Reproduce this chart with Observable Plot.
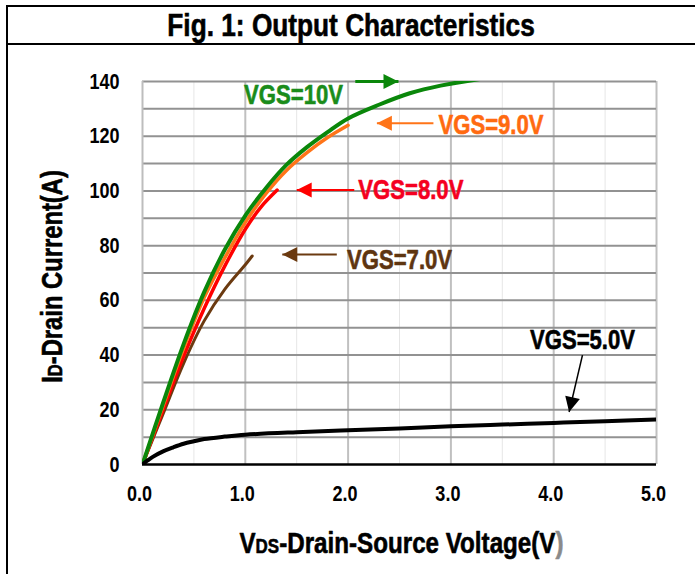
<!DOCTYPE html>
<html>
<head>
<meta charset="utf-8">
<script src="https://cdn.jsdelivr.net/npm/d3@7"></script>
<script src="https://cdn.jsdelivr.net/npm/@observablehq/plot@0.6"></script>
<style>
  body { margin: 0; background: #fff; width: 695px; height: 574px; overflow: hidden; position: relative;
         font-family: 'Liberation Sans', Arial, sans-serif; }
  #frame { position: absolute; left: 6px; top: 5px; width: 689px; height: 569px;
           border-left: 2px solid #000; border-top: 2px solid #000; box-sizing: border-box; }
  #title { position: absolute; left: 8px; top: 7px; width: 687px; height: 36px; border-bottom: 2px solid #000;
           text-align: center; font-weight: bold; font-size: 32px; line-height: 36px; color: #000; }
  #title span { display: inline-block; transform: scaleX(0.82); transform-origin: center;
                -webkit-text-stroke: 0.6px #000; }
  #chart { position: absolute; left: 8px; top: 45px; }
</style>
</head>
<body>
<div id="frame"></div>
<div id="title"><span>Fig. 1: Output Characteristics</span></div>
<div id="chart"></div>
<script>
// ---- data ----
const xTicks = [0, 1, 2, 3, 4, 5];
const yTicks = [0, 20, 40, 60, 80, 100, 120, 140];
const xMinor = [0.5, 1.5, 2.5, 3.5, 4.5];
const yGrid = [10, 20, 30, 40, 50, 60, 70, 80, 90, 100, 110, 120, 130, 140];

const vds10 = [0, 0.2, 0.4, 0.6, 0.8, 1.0, 1.2, 1.4, 1.6, 1.8, 2.0, 2.3, 2.6, 2.9, 3.3];
const id10  = [0, 22.5, 44, 63, 78.5, 91, 101, 109.5, 116, 121.5, 126.5, 131.5, 135.7, 138.5, 141];

const vds9 = [0, 0.2, 0.4, 0.6, 0.8, 1.0, 1.2, 1.4, 1.6, 1.8, 2.0];
const id9  = [0, 21.5, 42.5, 61, 75.5, 88.5, 99, 107.5, 114, 119.5, 124];

const vds8 = [0, 0.2, 0.4, 0.6, 0.8, 1.0, 1.15, 1.31];
const id8  = [0, 20, 39.5, 57, 72.5, 86, 94, 100.3];

const vds7 = [0, 0.2, 0.4, 0.6, 0.8, 1.0, 1.067];
const id7  = [0, 18.5, 37, 52.5, 64, 73, 76.2];

const vds5 = [0, 0.05, 0.1, 0.2, 0.3, 0.4, 0.5, 0.6, 0.8, 1.0, 1.5, 2.0, 2.5, 3.0, 3.5, 4.0, 4.5, 5.0];
const id5  = [0, 1.5, 2.8, 4.8, 6.3, 7.6, 8.5, 9.3, 10.2, 10.9, 11.8, 12.5, 13.2, 14.0, 14.6, 15.2, 15.8, 16.5];

const seriesNames = ["VGS=10V", "VGS=9.0V", "VGS=8.0V", "VGS=7.0V", "VGS=5.0V"];
const annX = [1.47, 3.39, 2.61, 2.50, 4.28];
const annY = [135.1, 124.1, 100.3, 74.7, 45.5];
const arrowFromX = [2.07, 2.83, 2.06, 1.89, 4.28];
const arrowFromY = [140, 124.7, 100.3, 76.8, 40.0];
const arrowToX   = [2.49, 2.28, 1.50, 1.36, 4.15];
const arrowToY   = [140, 124.7, 100.3, 76.8, 19.2];

const xTitle = "VDS-Drain-Source Voltage(V)";
const yTitle = "ID-Drain Current(A)";

// ---- styles ----
const FONT = "'Liberation Sans', Arial, sans-serif";
const NARROW = 0.82;
const curveColors = ["#0a870a", "#ff7418", "#ff0000", "#6b3a10", "#000000"];
const textColors  = ["#1a8c1a", "#ff6a10", "#f40020", "#5e3510", "#000000"];
const curveWidths = [4, 3.5, 3.5, 3, 4];
const arrowWidths = [3, 2, 2, 2, 1.5];

const W = 687, H = 529, ML = 134, MR = 39, MT = 36, MB = 110;
const pxX = (W - ML - MR) / 5, pxY = (H - MT - MB) / 140;

const curves = [
  [vds10, id10], [vds9, id9], [vds8, id8], [vds7, id7], [vds5, id5]
].map(([xs, ys], k) => xs.map((x, i) => ({x, y: ys[i], k})));

function head(angle, L, Wd) {
  const c = Math.cos(angle), s = Math.sin(angle);
  const pt = (x, y) => [x * c - y * s, x * s + y * c];
  return {
    draw(ctx) {
      const a = pt(0, 0), b = pt(-L, -Wd), d = pt(-L, Wd);
      ctx.moveTo(a[0], a[1]); ctx.lineTo(b[0], b[1]); ctx.lineTo(d[0], d[1]); ctx.closePath();
    }
  };
}

const arrowMarks = [];
seriesNames.forEach((name, k) => {
  const dxs = (arrowToX[k] - arrowFromX[k]) * pxX;
  const dys = -(arrowToY[k] - arrowFromY[k]) * pxY;
  const ang = Math.atan2(dys, dxs);
  const seg = [{x1: arrowFromX[k], y1: arrowFromY[k], x2: arrowToX[k], y2: arrowToY[k]}];
  arrowMarks.push(Plot.link(seg, {x1: "x1", y1: "y1", x2: "x2", y2: "y2",
    stroke: curveColors[k], strokeWidth: arrowWidths[k]}));
  arrowMarks.push(Plot.dot([{x: arrowToX[k], y: arrowToY[k]}], {x: "x", y: "y",
    symbol: head(ang, 15, 7.5), r: 5, fill: curveColors[k], stroke: "none"}));
  arrowMarks.push(Plot.text([{x: annX[k], y: annY[k], t: name}], {x: "x", y: "y", text: "t",
    fill: textColors[k], stroke: textColors[k], strokeWidth: 0.6,
    fontSize: 27, fontWeight: "bold", textAnchor: "middle", lineAnchor: "middle"}));
});

const order = [3, 2, 1, 0, 4];

const plot = Plot.plot({
  width: W, height: H,
  marginLeft: ML, marginRight: MR, marginTop: MT, marginBottom: MB,
  style: {fontFamily: FONT, background: "transparent", color: "#000", overflow: "visible"},
  x: {domain: [0, 5], axis: null},
  y: {domain: [0, 140], axis: null},
  marks: [
    Plot.ruleX(xMinor, {stroke: "#e6e6e6", strokeWidth: 1}),
    Plot.ruleX(xTicks.slice(1), {stroke: "#c0c0c0", strokeWidth: 2}),
    Plot.ruleY(yGrid, {stroke: "#929292", strokeWidth: 2}),
    Plot.ruleX([0], {stroke: "#bdbdbd", strokeWidth: 2}),
    ...order.map(k => Plot.line(curves[k], {x: "x", y: "y", stroke: curveColors[k],
      strokeWidth: curveWidths[k], curve: "catmull-rom", clip: true})),
    Plot.ruleY([0], {stroke: "#000", strokeWidth: 2.5}),
    Plot.axisX({ticks: xTicks, tickFormat: d => d.toFixed(1), tickSize: 0, tickPadding: 21, dx: -3,
      fontSize: 22, fontWeight: "bold", label: null, fill: "#000", stroke: "#000", strokeWidth: 0.5}),
    Plot.axisY({ticks: yTicks, tickFormat: d => String(d), tickSize: 0, tickPadding: 23,
      fontSize: 22, fontWeight: "bold", label: null, fill: "#000", stroke: "#000", strokeWidth: 0.5}),
    Plot.text([xTitle], {text: d => d, frameAnchor: "bottom", dx: 2, dy: 79, fontSize: 29.5,
      fontWeight: "bold", textAnchor: "middle", lineAnchor: "middle", fill: "#000", stroke: "#000", strokeWidth: 0.6}),
    Plot.text([yTitle], {text: d => d, frameAnchor: "left", dx: -90, dy: 3.5, rotate: -90, fontSize: 29,
      fontWeight: "bold", textAnchor: "middle", lineAnchor: "middle", fill: "#000", stroke: "#000", strokeWidth: 0.6}),
    ...arrowMarks
  ]
});

// small-caps subscripts in axis titles (still real text)
d3.select(plot).selectAll("text").each(function () {
  const t = this.textContent;
  if (t === yTitle) {
    const el = d3.select(this); el.text(null);
    el.append("tspan").text("I");
    el.append("tspan").attr("font-size", "0.7em").text("D");
    el.append("tspan").text("-Drain Current(A)");
  } else if (t === xTitle) {
    const el = d3.select(this); el.text(null);
    el.append("tspan").text("V");
    el.append("tspan").attr("font-size", "0.7em").text("DS");
    el.append("tspan").text("-Drain-Source Voltage(V");
    el.append("tspan").attr("fill", "#8a8a8a").attr("stroke", "#8a8a8a").text(")");
  }
});

// condense glyphs horizontally around each text's own anchor to mimic a narrow bold face
plot.querySelectorAll("text").forEach(t => {
  const tr = t.getAttribute("transform") || "";
  t.setAttribute("transform", `${tr} scale(${NARROW},1)`.trim());
});

document.getElementById("chart").appendChild(plot);
</script>
</body>
</html>
